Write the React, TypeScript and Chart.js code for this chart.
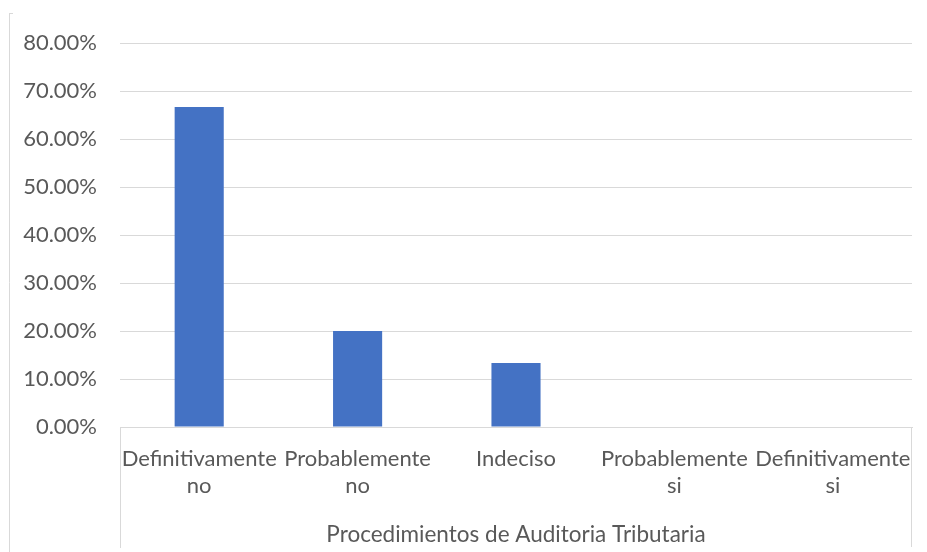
import React, { useEffect, useRef } from "react";
import { Chart, registerables } from "chart.js";

Chart.register(...registerables);

const categories: string[][] = [
  ["Definitivamente", "no"],
  ["Probablemente", "no"],
  ["Indeciso"],
  ["Probablemente", "si"],
  ["Definitivamente", "si"],
];
const values: number[] = [66.67, 20.0, 13.33, 0, 0];
const yMin = 0;
const yMax = 80;
const yStep = 10;
const axisTitle = "Procedimientos de Auditoria Tributaria";

const TEXT = "#595959";
const GRID = "#d9d9d9";
const BAR = "#4472C4";
const FONT = "Lato, 'Open Sans', sans-serif";

const framePlugin = {
  id: "frame",
  afterDraw(chart: any) {
    const { ctx, chartArea, scales } = chart;
    const xs = scales.x;
    ctx.save();
    ctx.strokeStyle = GRID;
    ctx.lineWidth = 1;
    ctx.beginPath();
    ctx.moveTo(Math.round(xs.left) + 0.5, chartArea.bottom);
    ctx.lineTo(Math.round(xs.left) + 0.5, chart.height - 4);
    ctx.moveTo(Math.round(xs.right) - 0.5, chartArea.bottom);
    ctx.lineTo(Math.round(xs.right) - 0.5, chart.height - 5);
    ctx.moveTo(9.5, 13);
    ctx.lineTo(9.5, chart.height);
    ctx.moveTo(9.5, 13.5);
    ctx.lineTo(13, 13.5);
    ctx.stroke();
    ctx.restore();
  },
};

export default function App() {
  const ref = useRef<HTMLCanvasElement | null>(null);
  useEffect(() => {
    if (!ref.current) return;
    const chart = new Chart(ref.current, {
      type: "bar",
      data: {
        labels: categories,
        datasets: [
          {
            data: values,
            backgroundColor: BAR,
            borderWidth: 0,
            categoryPercentage: 1,
            barPercentage: 0.31,
          },
        ],
      },
      plugins: [framePlugin],
      options: {
        responsive: false,
        animation: false,
        layout: { padding: { top: 43, right: 15, bottom: 0, left: 0 } },
        plugins: {
          legend: { display: false },
          tooltip: { enabled: false },
        },
        scales: {
          x: {
            grid: { display: false, drawTicks: false },
            border: { display: true, color: GRID },
            ticks: {
              color: TEXT,
              font: { family: FONT, size: 22, lineHeight: 1.25 },
              padding: 18,
              maxRotation: 0,
              autoSkip: false,
            },
            title: {
              display: true,
              text: axisTitle,
              color: TEXT,
              font: { family: FONT, size: 22.5 },
              padding: { top: 10, bottom: 4 },
            },
            afterFit(scale: any) {
              scale.height = 125;
              scale.paddingLeft = 0;
              scale.paddingRight = 0;
            },
          },
          y: {
            min: yMin,
            max: yMax,
            grid: { color: GRID, drawTicks: false },
            border: { display: false },
            ticks: {
              stepSize: yStep,
              color: TEXT,
              font: { family: FONT, size: 22 },
              padding: 23,
              callback: (v: any) => Number(v).toFixed(2) + "%",
            },
            afterFit(scale: any) {
              scale.width = 120;
            },
          },
        },
      },
    });
    return () => chart.destroy();
  }, []);
  return (
    <canvas
      ref={ref}
      width={927}
      height={552}
      style={{ position: "fixed", left: 0, top: 0, display: "block" }}
    />
  );
}
